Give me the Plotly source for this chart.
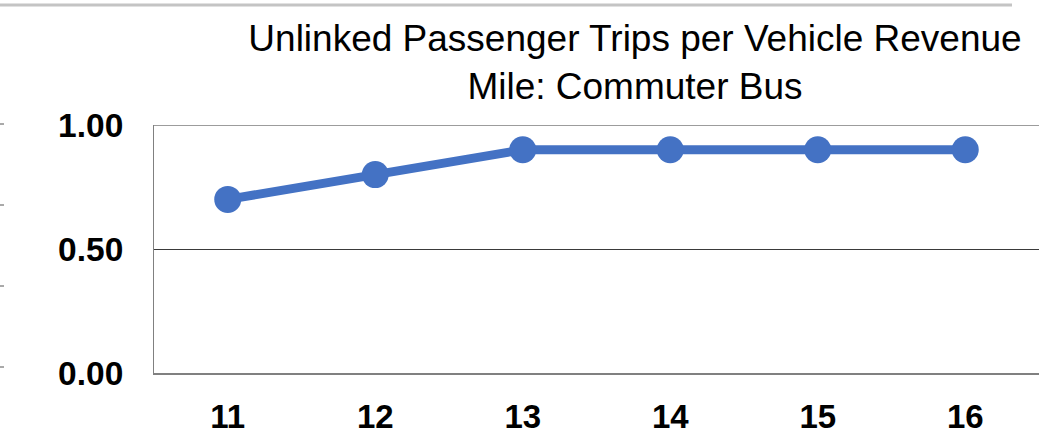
import plotly.graph_objects as go

years = ["11", "12", "13", "14", "15", "16"]
trips_per_mile = [0.70, 0.80, 0.90, 0.90, 0.90, 0.90]
y_ticks = [0.0, 0.5, 1.0]
y_tick_labels = ["0.00", "0.50", "1.00"]

W, H = 1049, 428
L, R, T, B = 154, 10, 125, 55
pw, ph = W - L - R, H - T - B

def px(x):
    return (x - L) / pw

def py(y):
    return (H - B - y) / ph

fig = go.Figure()
fig.add_trace(go.Scatter(
    x=years, y=trips_per_mile, mode="lines+markers",
    line=dict(color="#4472C4", width=9),
    marker=dict(color="#4472C4", size=27),
    hoverinfo="skip", showlegend=False, cliponaxis=False,
))

shapes = [
    dict(type="line", xref="paper", yref="paper", x0=px(0), x1=px(1012), y0=py(5), y1=py(5),
         line=dict(color="#C4C4C4", width=3)),
    dict(type="line", xref="paper", yref="y", x0=0, x1=1, y0=1.0, y1=1.0,
         line=dict(color="#3a3a3a", width=1)),
]
for tyy in [124, 205, 286, 367]:
    shapes.append(dict(type="line", xref="paper", yref="paper", x0=px(0), x1=px(4), y0=py(tyy), y1=py(tyy),
                       line=dict(color="#555555", width=1)))

fig.update_layout(
    width=W, height=H,
    margin=dict(l=L, r=R, t=T, b=B, pad=0, autoexpand=False),
    paper_bgcolor="white", plot_bgcolor="white",
    font=dict(family="Liberation Sans, Arial, sans-serif", color="#000000"),
    title=dict(
        text="Unlinked Passenger Trips per Vehicle Revenue<br>Mile: Commuter Bus",
        x=635 / W, xanchor="center", xref="container",
        y=1 - 51 / H, yanchor="top", yref="container",
        font=dict(size=37, color="#000000"),
        automargin=False,
    ),
    xaxis=dict(
        type="category", range=[-0.5, 5.5],
        showgrid=False, showline=True, linecolor="#808080", linewidth=2,
        ticks="", ticklabelstandoff=13, automargin=False,
        tickfont=dict(size=33, family="Liberation Sans, Arial, sans-serif", color="#000000", weight="bold"),
        fixedrange=True,
    ),
    yaxis=dict(
        range=[0, 1.0], tickvals=y_ticks, ticktext=y_tick_labels,
        showgrid=True, gridcolor="#3a3a3a", gridwidth=1,
        showline=True, linecolor="#808080", linewidth=1,
        zeroline=False, ticks="", ticklabelstandoff=23, automargin=False,
        tickfont=dict(size=33.5, family="Liberation Sans, Arial, sans-serif", color="#000000", weight="bold"),
        fixedrange=True,
    ),
    shapes=shapes,
)

fig.write_html("out.html", config={"displayModeBar": False},
               post_script="document.body.style.margin='0';document.body.style.overflow='hidden';")
